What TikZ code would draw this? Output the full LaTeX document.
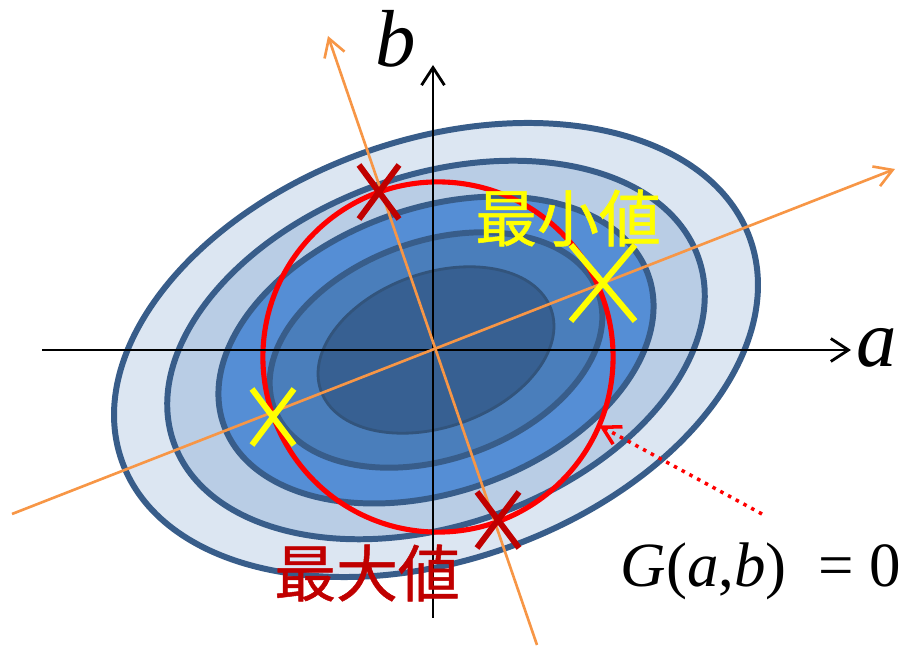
\documentclass[tikz,border=0pt]{standalone}
\usepackage{fontspec}
\setmainfont{Liberation Serif}
\newfontfamily\jpfont[FakeBold=0.8]{Noto Sans CJK JP}
\usepackage{tikz}
\usetikzlibrary{arrows.meta,shapes.misc}
\definecolor{ringline}{HTML}{385D8A}
\definecolor{ringA}{HTML}{DCE6F2}
\definecolor{ringB}{HTML}{B9CDE5}
\definecolor{ringC}{HTML}{558ED5}
\definecolor{ringD}{HTML}{4A7EBB}
\definecolor{ringE}{HTML}{376092}
\definecolor{eigenorange}{HTML}{F79646}
\definecolor{maxred}{HTML}{C00000}
\definecolor{minyellow}{HTML}{FFFF00}

\begin{document}
\begin{tikzpicture}[
  x=0.01cm, y=0.01cm,
  level/.style={draw=ringline, line width=1.7pt},
  coordaxis/.style={-{Straight Barb[length=5pt,width=6.5pt]}, line width=0.8pt, black},
  eigenline/.style={-{Straight Barb[length=5pt,width=6pt]}, line width=0.75pt, eigenorange},
  constraint/.style={draw=red, line width=1.45pt, circle, minimum size=3.5cm,
    inner sep=0pt, outer sep=0pt},
  pointer/.style={-{Straight Barb[length=5pt,width=5.6pt]}, line width=1pt, red,
    dash pattern=on 1pt off 1.5pt},
  extremum/.style={cross out, draw, line width=1.7pt, inner sep=0pt, outer sep=0pt},
  axislab/.style={anchor=base west, inner sep=0pt, font=\fontsize{23}{26}\selectfont\itshape},
  jplab/.style={inner sep=0pt, font=\jpfont\fontsize{17.6}{20}\selectfont}
]
  \useasboundingbox (0,0) rectangle (899,648);

  \coordinate (C) at (436,298);
  \draw[level, fill=ringA] (C) ellipse [x radius=3.33cm, y radius=2.10cm, rotate=19.4];
  \draw[level, fill=ringB] (C) ellipse [x radius=2.78cm, y radius=1.75cm, rotate=19.4];
  \draw[level, fill=ringC] (C) ellipse [x radius=2.25cm, y radius=1.42cm, rotate=19.4];
  \draw[level, fill=ringD] (C) ellipse [x radius=1.72cm, y radius=1.09cm, rotate=19.4];
  \draw[draw=ringline!90!black, line width=0.8pt, fill=ringE] (C) ellipse [x radius=1.22cm, y radius=0.77cm, rotate=19.4];

  \node[constraint] (Gcurve) at (438,291) {};

  \coordinate (aFrom) at (42,298);
  \coordinate (aTo) at (851,298);
  \coordinate (bFrom) at (433,30);
  \coordinate (bTo) at (433,583);
  \draw[coordaxis] (aFrom) -- (aTo);
  \draw[coordaxis] (bFrom) -- (bTo);
  \node[axislab] (lblA) at (856,281) {a};
  \node[axislab] (lblB) at (375,581) {b};

  \coordinate (uFrom) at (12,134);
  \coordinate (uTo) at (895,479);
  \coordinate (vFrom) at (537,3);
  \coordinate (vTo) at (328,612);
  \draw[eigenline] (uFrom) -- (uTo);
  \draw[eigenline] (vFrom) -- (vTo);

  \node[extremum, draw=maxred, minimum width=0.40cm, minimum height=0.54cm] (maxTop) at (379,456) {};
  \node[extremum, draw=maxred, minimum width=0.42cm, minimum height=0.56cm] (maxBot) at (498,128) {};
  \node[extremum, draw=minyellow, minimum width=0.42cm, minimum height=0.56cm] (minLeft) at (273,231) {};
  \node[extremum, draw=minyellow, minimum width=0.64cm, minimum height=0.76cm] (minRight) at (603,365) {};

  \node[jplab, text=minyellow] (txtMin) at (568,430) {最小値};
  \node[jplab, text=maxred] (txtMax) at (367,75) {最大値};

  \node[anchor=base west, inner sep=0pt, font=\fontsize{17.9}{20}\selectfont] (lblG) at (620,61)
    {\textit{G}(\textit{a},\textit{b})\hspace{9pt}= 0};
  \coordinate (gTail) at (762,134);
  \draw[pointer] (gTail) -- (Gcurve.-23.5);
\end{tikzpicture}
\end{document}
